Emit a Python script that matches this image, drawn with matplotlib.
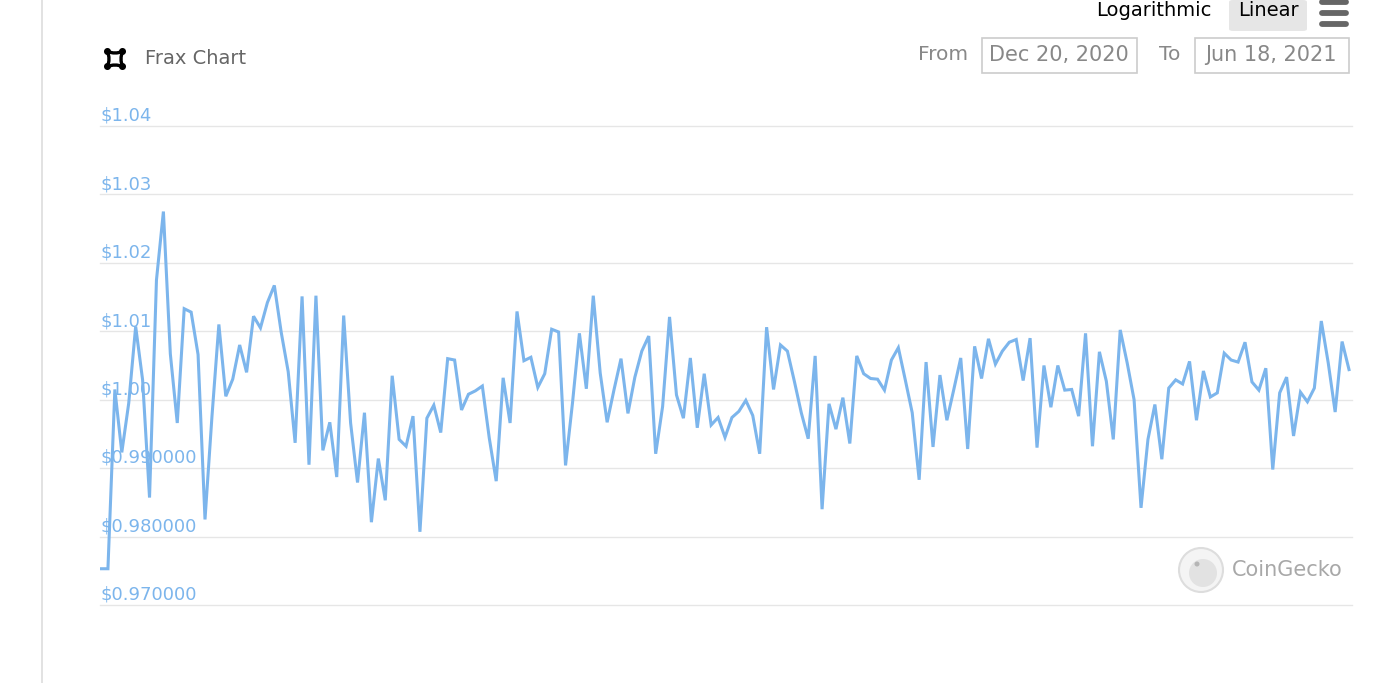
#!/usr/bin/env python3
"""Frax price chart (CoinGecko style) — Dec 20, 2020 to Jun 18, 2021."""
import matplotlib
matplotlib.use('Agg')
import matplotlib.pyplot as plt
from matplotlib.patches import Rectangle, FancyBboxPatch, Ellipse, PathPatch
from matplotlib.path import Path
from matplotlib.lines import Line2D
import pandas as pd

# Palette
LINE = '#7cb5ec'
GRID = '#e6e6e6'
GRIS = '#888888'
GRIS_FONCE = '#666666'

# Data: daily FRAX price (USD)
prices = [
    0.9753, 0.9753, 1.0015, 0.9923, 0.9995, 1.0107, 1.0029, 0.9857, 1.0175, 1.0275,
    1.0067, 0.9966, 1.0133, 1.0128, 1.0066, 0.9825, 0.9975, 1.0110, 1.0005, 1.0030,
    1.0080, 1.0040, 1.0122, 1.0105, 1.0142, 1.0167, 1.0098, 1.0041, 0.9937, 1.0151,
    0.9905, 1.0152, 0.9926, 0.9967, 0.9887, 1.0123, 0.9966, 0.9879, 0.9981, 0.9821,
    0.9914, 0.9853, 1.0035, 0.9942, 0.9932, 0.9976, 0.9807, 0.9973, 0.9992, 0.9952,
    1.0060, 1.0058, 0.9985, 1.0008, 1.0013, 1.0020, 0.9944, 0.9881, 1.0032, 0.9966,
    1.0129, 1.0057, 1.0062, 1.0018, 1.0038, 1.0103, 1.0099, 0.9904, 0.9995, 1.0097,
    1.0016, 1.0152, 1.0039, 0.9967, 1.0015, 1.0060, 0.9980, 1.0033, 1.0071, 1.0093,
    0.9921, 0.9990, 1.0121, 1.0007, 0.9973, 1.0061, 0.9959, 1.0038, 0.9963, 0.9974,
    0.9945, 0.9974, 0.9983, 0.9999, 0.9977, 0.9921, 1.0106, 1.0015, 1.0080, 1.0071,
    1.0027, 0.9981, 0.9943, 1.0064, 0.9840, 0.9994, 0.9957, 1.0003, 0.9936, 1.0064,
    1.0038, 1.0031, 1.0030, 1.0014, 1.0058, 1.0076, 1.0029, 0.9981, 0.9883, 1.0055,
    0.9931, 1.0036, 0.9970, 1.0015, 1.0061, 0.9928, 1.0078, 1.0031, 1.0089, 1.0052,
    1.0071, 1.0084, 1.0088, 1.0028, 1.0090, 0.9930, 1.0050, 0.9989, 1.0050, 1.0014,
    1.0015, 0.9976, 1.0097, 0.9932, 1.0070, 1.0027, 0.9942, 1.0102, 1.0054, 1.0000,
    0.9842, 0.9942, 0.9993, 0.9913, 1.0017, 1.0029, 1.0023, 1.0056, 0.9970, 1.0042,
    1.0004, 1.0010, 1.0068, 1.0058, 1.0055, 1.0084, 1.0026, 1.0014, 1.0046, 0.9898,
    1.0010, 1.0033, 0.9947, 1.0011, 0.9997, 1.0017, 1.0115, 1.0054, 0.9982, 1.0085,
    1.0044,
]
dates = pd.date_range('2020-12-20', periods=len(prices), freq='D')

y_ticks = [0.97, 0.98, 0.99, 1.00, 1.01, 1.02, 1.03, 1.04]
y_labels = ['$0.970000', '$0.980000', '$0.990000', '$1.00', '$1.01',
            '$1.02', '$1.03', '$1.04']
date_from = 'Dec 20, 2020'
date_to = 'Jun 18, 2021'

W, H = 1400, 683
fig = plt.figure(figsize=(W / 100, H / 100), dpi=100)
fig.patch.set_facecolor('white')

def px(x, y):
    """pixel coords (top-left origin) -> figure fraction"""
    return x / W, 1 - y / H

def dot(x, y, r, **kw):
    fig.add_artist(Ellipse(px(x, y), 2 * r / W, 2 * r / H,
                           transform=fig.transFigure, **kw))

# Plot area
ax = fig.add_axes([100 / W, 1 - 605 / H, 1252 / W, 479 / H])
ax.set_facecolor('none')
ax.plot(dates, prices, color=LINE, lw=2.2, solid_joinstyle='miter', zorder=3)

ax.set_ylim(0.97, 1.04)
day = pd.Timedelta(days=1)
ax.set_xlim(dates[0] - 0.144 * day, dates[0] + 180.43 * day)
ax.set_yticks(y_ticks)
ax.set_yticklabels([])
ax.set_xticks([])
ax.tick_params(length=0)
ax.yaxis.grid(True, color=GRID, lw=1.0, zorder=0)
for s in ax.spines.values():
    s.set_visible(False)
for gl in ax.get_ygridlines():
    gl.set_clip_on(False)

for v, lab in zip(y_ticks, y_labels):
    ax.annotate(lab, xy=(0, v), xycoords=('axes fraction', 'data'),
                xytext=(0, 3.8), textcoords='offset points',
                ha='left', va='baseline', fontsize=13, color=LINE, zorder=2)

# Left border line
fig.add_artist(Line2D([42 / W, 42 / W], [0, 1], color='#dddddd', lw=1.2))

# Title with Frax icon: square with concave sides and round corners
cx, cy, a, k = 115, 59, 7.5, 3.0
pts = [(cx - a, cy - a), (cx, cy - a + k), (cx + a, cy - a),
       (cx + a - k, cy), (cx + a, cy + a), (cx, cy + a - k),
       (cx - a, cy + a), (cx - a + k, cy), (cx - a, cy - a)]
verts = [px(*pts[0])]
codes = [Path.MOVETO]
for i in range(1, len(pts), 2):
    verts += [px(*pts[i]), px(*pts[i + 1])]
    codes += [Path.CURVE3, Path.CURVE3]
fig.add_artist(PathPatch(Path(verts, codes), fill=False, edgecolor='black',
                         lw=2.4, transform=fig.transFigure))
for dx in (-1, 1):
    for dy in (-1, 1):
        dot(cx + dx * a, cy + dy * a, 2.8, color='black')
fig.text(*px(145, 59), 'Frax Chart', fontsize=14, color=GRIS_FONCE,
         ha='left', va='center')

# Scale buttons
fig.text(*px(1212, 11), 'Logarithmic', fontsize=14, color='black',
         ha='right', va='center')
fig.add_artist(FancyBboxPatch(px(1229, 31), 78 / W, 31 / H,
                              boxstyle='round,pad=0,rounding_size=0.003',
                              facecolor='#e6e6e6', edgecolor='none'))
fig.text(*px(1268, 11), 'Linear', fontsize=14, color='black',
         ha='center', va='center')
for yb in (2, 13, 24):
    fig.add_artist(Line2D([1322 / W, 1346 / W], [1 - yb / H] * 2,
                          color=GRIS_FONCE, lw=4.2, solid_capstyle='round'))

# Date range inputs
fig.text(*px(968, 55), 'From', fontsize=14.5, color=GRIS, ha='right', va='center')
fig.add_artist(Rectangle(px(982, 73), 155 / W, 35 / H, fill=False,
                         edgecolor='#cccccc', lw=1.2))
fig.text(*px(1059, 55), date_from, fontsize=15, color=GRIS, ha='center', va='center')
fig.text(*px(1180, 55), 'To', fontsize=14.5, color=GRIS, ha='right', va='center')
fig.add_artist(Rectangle(px(1195, 73), 154 / W, 35 / H, fill=False,
                         edgecolor='#cccccc', lw=1.2))
fig.text(*px(1271, 55), date_to, fontsize=15, color=GRIS, ha='center', va='center')

# CoinGecko watermark
dot(1201, 570, 22, facecolor='#f4f4f4', edgecolor='#dddddd', lw=1.5)
dot(1203, 573, 14, facecolor='#e2e2e2', edgecolor='none')
dot(1197, 564, 2.5, facecolor='#b5b5b5', edgecolor='none')
fig.text(*px(1232, 570), 'CoinGecko', fontsize=15, color='#a8a8a8',
         ha='left', va='center')

fig.savefig('out.png', dpi=100, facecolor='white')
plt.close()
